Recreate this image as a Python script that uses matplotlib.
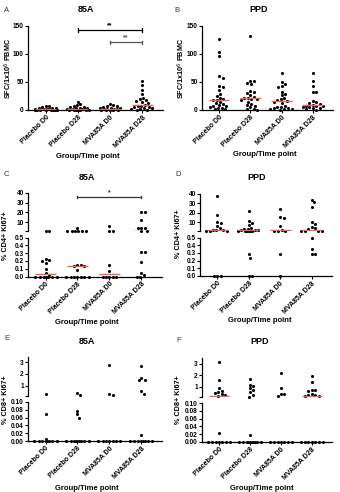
import numpy as np
import matplotlib
matplotlib.use("Agg")
import matplotlib.pyplot as plt

plt.rcParams['font.family'] = ['Liberation Sans', 'DejaVu Sans']

groups = ['Placebo D0', 'Placebo D28', 'MVA85A D0', 'MVA85A D28']

# A: 85A, SFC/1x10^6 PBMC
a_pd0 = [8, 7, 5, 4, 3, 3, 2, 2, 2, 1, 1, 1, 0, 0, 0, 0, 0, 0, 0, 0]
a_pd28 = [15, 10, 9, 8, 6, 5, 4, 3, 3, 2, 2, 1, 1, 0, 0, 0, 0, 0, 0, 0]
a_md0 = [10, 9, 8, 7, 6, 4, 3, 3, 2, 2, 1, 1, 0, 0, 0, 0, 0]
a_md28 = [51, 44, 35, 28, 22, 19, 17, 16, 14, 12, 9, 8, 7, 6, 5, 4, 3, 2, 1, 0, 0]

# B: PPD, SFC/1x10^6 PBMC
b_pd0 = [126, 104, 97, 60, 57, 43, 41, 35, 29, 25, 22, 20, 18, 17, 15, 12, 10, 9, 8, 7, 5, 4, 3, 2, 1]
b_pd28 = [132, 52, 51, 48, 46, 34, 32, 30, 27, 24, 22, 21, 20, 19, 18, 15, 11, 9, 7, 5, 2, 1, 0]
b_md0 = [66, 50, 47, 43, 41, 33, 29, 26, 21, 19, 17, 16, 15, 12, 8, 6, 5, 4, 3, 2, 1, 1, 0]
b_md28 = [66, 51, 42, 33, 32, 16, 14, 12, 10, 9, 8, 8, 7, 6, 5, 4, 3, 1, 0]

# C: 85A, % CD4+ Ki67+
c_pd0 = [1, 0.9, 0.22, 0.21, 0.2, 0.17, 0.1, 0.04, 0.02, 0, 0, 0, 0, 0, 0, 0]
c_pd28 = [4.4, 1, 1, 1, 1, 1, 1, 0.15, 0.15, 0.14, 0.14, 0.09, 0, 0, 0, 0, 0, 0, 0]
c_md0 = [6, 1.5, 1.5, 0.15, 0.07, 0, 0, 0, 0, 0]
c_md28 = [21, 20, 12, 4.5, 4, 4, 1, 1, 0.32, 0.31, 0.19, 0.05, 0.02, 0, 0]

# D: PPD, % CD4+ Ki67+
d_pd0 = [37.5, 17.5, 10.5, 9, 6, 3.5, 2, 1.5, 1.2, 1, 1, 1, 0, 0, 0]
d_pd28 = [22, 11, 9, 7, 4, 3, 2.5, 2, 1.5, 1.2, 1, 1, 1, 1, 1, 1, 0.28, 0.24, 0, 0]
d_md0 = [23.5, 15, 14.5, 5.5, 2, 1, 1, 1, 0.28, 0]
d_md28 = [34, 31.5, 26, 10, 8, 4.5, 3.5, 3, 1, 1, 1, 1, 0.5, 0.35, 0.29, 0.28]

# E: 85A, % CD8+ Ki67+
e_pd0 = [0.25, 0.07, 0.004, 0, 0, 0, 0, 0, 0, 0, 0]
e_pd28 = [0.4, 0.15, 0.078, 0.068, 0.06, 0, 0, 0, 0, 0, 0, 0, 0, 0]
e_md0 = [2.75, 0.3, 0.15, 0, 0, 0, 0, 0, 0, 0]
e_md28 = [2.65, 1.65, 1.5, 1.45, 0.5, 0.3, 0.015, 0, 0, 0, 0, 0, 0, 0, 0]

# F: PPD, % CD8+ Ki67+
f_pd0 = [3.15, 1.55, 0.85, 0.65, 0.5, 0.45, 0.35, 0.3, 0.2, 0.022, 0, 0, 0, 0, 0, 0, 0]
f_pd28 = [1.7, 1.15, 1.1, 0.85, 0.75, 0.55, 0.3, 0.12, 0.018, 0, 0, 0, 0, 0, 0, 0, 0, 0, 0]
f_md0 = [2.15, 0.85, 0.4, 0.35, 0.2, 0, 0, 0, 0, 0, 0, 0]
f_md28 = [1.95, 1.45, 0.75, 0.7, 0.65, 0.35, 0.3, 0.25, 0.2, 0.15, 0, 0, 0, 0, 0, 0, 0]

W, H = 340, 492
XLIM = (-0.55, 3.65)
RED = '#e8625c'
FS = 4.7

fig = plt.figure(figsize=(W / 100, H / 100), dpi=100)


def add_ax(l, t, r, b):
    return fig.add_axes([l / W, 1 - b / H, (r - l) / W, (b - t) / H])


def swarm(vals, w_px, h_px, ylim, d=3.4, half=0.36):
    # beeswarm within a fixed half-width; overlap allowed when crowded
    vals = np.asarray(vals, float)
    ys = (vals - ylim[0]) / (ylim[1] - ylim[0]) * h_px
    ppu = w_px / (XLIM[1] - XLIM[0])
    maxw = half * ppu
    step = d / 4
    cands = [0.0]
    j = 1
    while j * step <= maxw:
        cands += [j * step, -j * step]
        j += 1
    xs = np.zeros(len(vals))
    placed = []
    for i in np.argsort(-vals, kind='stable'):
        best, bestd = 0.0, -1
        for c in cands:
            md = min([np.hypot(c - px, ys[i] - py) for px, py in placed] + [99])
            if md >= d:
                best = c
                break
            if md > bestd + 0.3:
                best, bestd = c, md
        xs[i] = best
        placed.append((best, ys[i]))
    return xs / ppu


def style(ax, bottom=True):
    ax.set_xlim(*XLIM)
    for s in ['top', 'right']:
        ax.spines[s].set_visible(False)
    ax.spines['left'].set_linewidth(0.9)
    ax.spines['bottom'].set_linewidth(0.9)
    ax.tick_params(axis='y', labelsize=FS, length=2, width=0.8, pad=1)
    ax.tick_params(axis='x', labelsize=5, length=2, width=0.8, pad=1)
    for lab in ax.get_yticklabels():
        lab.set_fontweight('bold')
    if bottom:
        ax.set_xticks(range(4))
        ax.set_xticklabels(groups, rotation=45, ha='right', rotation_mode='anchor',
                           fontweight='bold', fontsize=5)
    else:
        ax.spines['bottom'].set_visible(False)
        ax.set_xticks([])


def draw_group(ax, box, ylim, i, vals):
    l, t, r, b = box
    if len(vals) == 0:
        return
    xs = swarm(vals, r - l, b - t, ylim)
    ax.scatter(i + xs, vals, s=5, c='black', linewidths=0, zorder=3, clip_on=False)


def simple_panel(box, ylim, yticks, data):
    ax = add_ax(*box)
    ax.set_ylim(*ylim)
    ax.set_yticks(yticks)
    style(ax)
    for i, vals in enumerate(data):
        draw_group(ax, box, ylim, i, vals)
        ax.hlines(np.median(vals), i - 0.33, i + 0.33, color=RED, lw=1.0, zorder=4)
    return ax


def broken_panel(box_up, box_lo, ylim_up, ylim_lo, ticks_up, ticks_lo, fmt, data):
    axu = add_ax(*box_up)
    axl = add_ax(*box_lo)
    axu.set_ylim(*ylim_up)
    axl.set_ylim(*ylim_lo)
    axu.set_yticks([ylim_up[0]] + ticks_up)
    axu.set_yticklabels([''] + [str(v) for v in ticks_up])
    axl.set_yticks(ticks_lo)
    axl.set_yticklabels([fmt % v for v in ticks_lo])
    style(axu, bottom=False)
    style(axl)
    cut = ylim_lo[1]
    for i, vals in enumerate(data):
        v = np.asarray(vals, float)
        draw_group(axu, box_up, ylim_up, i, v[v > cut])
        draw_group(axl, box_lo, ylim_lo, i, v[v <= cut])
        med = np.median(v)
        axm = axu if med > cut else axl
        axm.hlines(med, i - 0.33, i + 0.33, color=RED, lw=1.0, zorder=4)
    return axu, axl


def bracket(ax, x0, x1, y, h, color, txt):
    ax.plot([x0, x1], [y, y], color=color, lw=0.9, clip_on=False)
    ax.plot([x0, x0], [y - h, y + h], color=color, lw=0.9, clip_on=False)
    ax.plot([x1, x1], [y - h, y + h], color=color, lw=0.9, clip_on=False)
    ax.text((x0 + x1) / 2, y + h * 0.6, txt, ha='center', va='bottom', fontsize=5,
            fontweight='bold', color=color)


def ftext(x, y, s, **kw):
    fig.text(x / W, 1 - y / H, s, **kw)


# panel A
axA = simple_panel((28, 26, 163, 110), (0, 150), [0, 50, 100, 150],
                   [a_pd0, a_pd28, a_md0, a_md28])
bracket(axA, 1, 3, 143, 3, 'black', '**')
bracket(axA, 2, 3, 121, 3, '#555555', '**')

# panel B
simple_panel((202, 26, 333, 110), (0, 150), [0, 50, 100, 150],
             [b_pd0, b_pd28, b_md0, b_md28])

# panel C
axCu, axCl = broken_panel((28, 193, 162, 231.5), (28, 237.7, 162, 276.5),
                          (0.5, 40), (0, 0.5), [10, 20, 30, 40],
                          [0, 0.1, 0.2, 0.3, 0.4, 0.5], '%.1f',
                          [c_pd0, c_pd28, c_md0, c_md28])
bracket(axCu, 1, 3, 36, 1.3, '#333333', '*')

# panel D
broken_panel((200, 194, 332, 231), (200, 237.5, 332, 276),
             (0.5, 40), (0, 0.5), [10, 20, 30, 40],
             [0, 0.1, 0.2, 0.3, 0.4, 0.5], '%.1f',
             [d_pd0, d_pd28, d_md0, d_md28])

# panel E
broken_panel((28, 357, 162, 396), (28, 402, 162, 441),
             (0.1, 3.45), (0, 0.1), [1, 2, 3],
             [0, 0.02, 0.04, 0.06, 0.08, 0.10], '%.2f',
             [e_pd0, e_pd28, e_md0, e_md28])

# panel F
broken_panel((202, 358, 332, 397), (202, 403, 332, 442),
             (0.1, 3.5), (0, 0.1), [1, 2, 3],
             [0, 0.02, 0.04, 0.06, 0.08, 0.10], '%.2f',
             [f_pd0, f_pd28, f_md0, f_md28])

# letters, titles and axis labels
for letter, x, y in [('A', 4, 11), ('B', 174, 11), ('C', 4, 175),
                     ('D', 175, 175), ('E', 4, 339), ('F', 176, 340)]:
    ftext(x, y, letter, fontsize=5.5, ha='left', va='center', color='#333333')

for title, x, y in [('85A', 86, 10), ('PPD', 259, 10), ('85A', 87, 177),
                    ('PPD', 257, 178), ('85A', 87, 342), ('PPD', 260, 342)]:
    ftext(x, y, title, fontsize=6.5, fontweight='bold', ha='center', va='center')

for x, y in [(88, 156), (265, 155), (87, 323), (260, 320), (87, 488), (262, 488)]:
    ftext(x, y, 'Group/Time point', fontsize=5.5, fontweight='bold', ha='center', va='center')

for s, x, y in [('SFC/1x10$^6$ PBMC', 8, 68), ('SFC/1x10$^6$ PBMC', 181, 68),
                ('% CD4+ Ki67+', 6, 236), ('% CD4+ Ki67+', 179, 234),
                ('% CD8+ Ki67+', 6, 400), ('% CD8+ Ki67+', 178, 400)]:
    ftext(x, y, s, fontsize=5.2, fontweight='bold', rotation=90, ha='center', va='center')

fig.savefig('out.png', dpi=100)
